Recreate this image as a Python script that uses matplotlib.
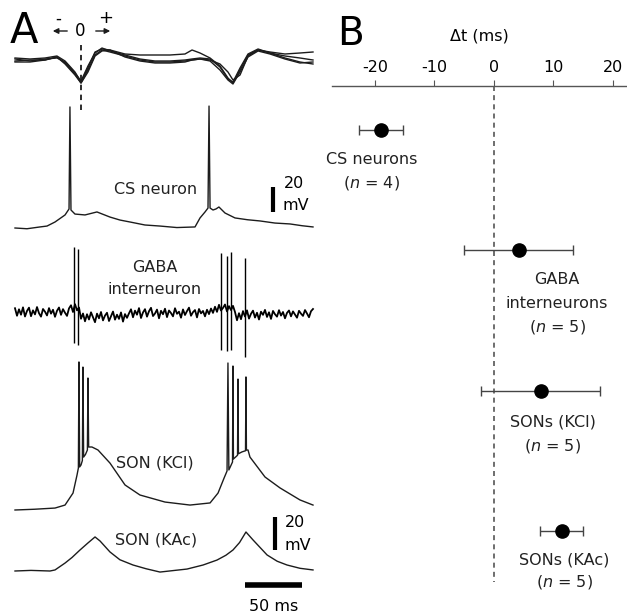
import numpy as np
import matplotlib
matplotlib.use("Agg")
import matplotlib.pyplot as plt

# ---- panel B data: spike timing relative to LFP trough (ms) ----
groups = ["CS neurons", "GABA\ninterneurons", "SONs (KCl)", "SONs (KAc)"]
group_n = [4, 5, 5, 5]
dt_mean = [-19.0, 4.2, 7.9, 11.4]
dt_low = [-22.7, -5.0, -2.2, 7.7]
dt_high = [-15.3, 13.3, 17.8, 15.0]
dt_ticks = [-20, -10, 0, 10, 20]

# ---- panel A data: traces (time in ms, voltage in mV above baseline) ----
lfp_t = [0, 13.2, 26.3, 36.8, 43.9, 52.6, 57.9, 64.0, 70.2, 76.3, 83.3, 96.5,
         109.6, 122.8, 135.9, 149.1, 155.3, 162.3, 171.1, 179.8, 186.8, 191.2,
         197.4, 204.4, 213.2, 223.7, 236.8, 250.0, 261.4]
lfp_1 = [2, 1, 2, 4, -1, -12, -22, -8, 8, 11, 10, 6, 5, 5, 5, 6, 10, 7, 2, -6,
         -18, -23, -10, 5, 10, 8, 6, 7, 8]
lfp_2 = [-1, 0, 0, 3, -3, -14, -23, -12, 4, 9, 10, 3, -1, -3, -3, -2, 0, 1, 0,
         -4, -12, -20, -15, 4, 10, 7, 2, -2, -4]
lfp_3 = [1, -1, 1, 2, -2, -13, -21, -6, 7, 12, 9, 5, 1, -1, -1, 0, 1, 2, 1, -7,
         -19, -22, -8, 6, 11, 7, 4, 2, 0]
lfp_4 = [-2, -2, 0, 3, -4, -15, -23, -10, 5, 10, 8, 4, 0, -2, -2, -1, 0, 1, -1,
         -10, -20, -24, -12, 3, 9, 6, 1, -3, -2]
lfp_zero_t = 57.9

cs_t = [0, 10.5, 21.9, 28.1, 35.1, 43.9, 47.4, 48.2, 49.1, 52.6, 61.4, 71.9,
        83.3, 92.1, 100.9, 114.0, 127.2, 142.0, 157.9, 162.3, 166.7, 169.3,
        170.2, 171.1, 173.7, 176.3, 178.9, 184.2, 193.0, 204.0, 214.9, 228.0,
        241.2, 252.0, 261.4]
cs_v = [0, -0.5, 0.7, 1.3, 4.0, 8.7, 12.7, 80.7, 12.0, 9.3, 8.7, 10.7,
        7.3, 5.3, 4.0, 2.0, 1.3, 0.3, 0.7, 6.7, 10.7, 13.3,
        81.3, 13.3, 12.0, 12.7, 14.0, 10.0, 6.7, 5.5, 4.7, 3.3,
        2.7, 1.5, 0.7]

gaba_v = [4.5, -0.5, 3.8, 0.2, 5.1, -1.0, 2.7, 4.9, -0.8, 3.1, 0.4, 5.3, 1.2,
          -1.1, 4.0, 2.2, -0.3, 4.6, 0.9, 3.5, -1.2, 2.8, 5.0, 0.1, 3.9, 1.5,
          -0.6, 4.4,
          6.5, 2.0, 7.2, 3.1, 5.0,
          -2.5, 1.0, -4.2, 0.5, -3.0, 1.8, -1.5, -4.8, 0.9, -2.2, 2.0, -3.6,
          -0.4, 1.5, -4.0, -0.8, 2.3, -3.1, 0.2, -2.6, 1.7, -4.4, 0.6, -1.9, 1.1,
          3.8, -1.5, 2.9, 0.2, 4.6, -2.0, 1.7, 3.9, -1.1, 2.5, 4.8, -0.7, 1.0,
          3.6, -2.2, 2.8, 0.5, 4.2, -1.4, 3.0, 1.3, -0.9, 4.5, 0.8, 2.2, -1.8,
          3.7, 0.0, 2.6, 4.9, -0.5, 1.9, 3.3, -1.6, 4.0, 1.1, 2.7, -0.9, 3.5,
          0.6, 4.3, 1.4,
          5.5, 2.1, 6.8, 3.0, 4.7, 7.0, 2.4, 5.9, 3.3, 6.1, 2.0,
          -3.5, 1.2, -2.8, 2.6, -1.0, 3.1, -2.4, 0.8, 2.9, -1.7, 1.5, -3.0, 2.2,
          0.1, 3.4, -1.3, 1.8, -2.6, 2.7, 0.5, -1.1, 3.2, -0.4, 2.0, -2.2, 1.4,
          3.0, -0.9, 2.4, 0.3, -1.8, 2.8, 0.9, -0.6, 3.3, 1.0, -1.5, 2.5, 4.0]
gaba_spike_t = [51.7, 55.3, 180.7, 185.9, 189.4, 201.7]
gaba_spike_top = [45.3, 44.0, 41.3, 39.3, 42.0, 38.0]
gaba_spike_bottom = [-18.7, -20.0, -23.3, -24.0, -23.3, -28.0]

kcl_t = [0, 17.0, 35.1, 43.9, 50.9, 54.4, 55.6, 56.1, 56.7, 57.9, 59.1, 59.6,
         60.2, 61.8, 63.5, 64.0, 64.6, 65.8, 67.5, 72.8, 83.3, 96.5, 109.6,
         131.6, 153.5, 171.1, 178.1, 183.4, 186.0, 186.8, 187.6, 189.0, 190.8,
         191.2, 191.6, 193.5, 195.2, 195.6, 196.0, 199.0, 202.2, 202.6, 203.0,
         204.4, 206.1, 219.3, 232.5, 250.0, 261.4]
kcl_v = [0, 0.5, 1.3, 3.3, 11.3, 23.3, 28.0, 98.7, 28.7, 30.0, 33.0, 95.3,
         35.3, 37.0, 40.0, 88.0, 42.0, 42.0, 42.0, 40.0, 31.3, 16.7, 10.0,
         5.3, 3.3, 4.7, 11.3, 21.3, 26.0, 98.0, 26.7, 29.0, 32.0,
         96.0, 34.0, 35.3, 36.5, 87.3, 37.5, 38.7, 39.5, 88.7, 40.0,
         40.0, 35.3, 22.0, 14.7, 6.7, 3.3]

kac_t = [0, 14.0, 30.7, 35.1, 43.9, 50.0, 57.0, 64.0, 70.2, 74.6, 83.3, 92.0,
         103.5, 115.0, 127.2, 139.0, 150.9, 165.0, 177.2, 185.0, 191.2, 197.0,
         202.6, 208.8, 221.1, 230.0, 238.6, 250.0, 261.4]
kac_v = [0, 0.4, 0, 0.7, 5.3, 9.0, 14.0, 18.7, 22.7, 20.0, 12.7, 7.5,
         4.0, 1.5, -0.7, 0.3, 1.3, 4.0, 7.3, 10.5, 14.0, 19.0,
         26.0, 20.7, 10.7, 6.5, 4.0, 1.8, 0.7]

# ---- layout helpers (figure pixels -> panel A data units) ----
MS_PER_PX = 50 / 57
MV_PER_PX = 2 / 3
TRACE = "#1c1c1c"


def xa(px):
    return (px - 15) * MS_PER_PX


def ya(px):
    return -px * MV_PER_PX


fig = plt.figure(figsize=(6.27, 6.14), dpi=100)

# ================= panel A =================
ax_a = fig.add_axes([0, 0, 320 / 627, 1])
ax_a.set_xlim(xa(0), xa(320))
ax_a.set_ylim(ya(614), ya(0))
ax_a.axis("off")

for tr in (lfp_1, lfp_2, lfp_3, lfp_4):
    ax_a.plot(lfp_t, ya(60) + np.array(tr) * MV_PER_PX, color=TRACE, lw=1)
ax_a.plot([lfp_zero_t, lfp_zero_t], [ya(45), ya(110)], color=TRACE, lw=1.3,
          ls=(0, (3, 2.5)))

ax_a.plot(cs_t, ya(228) + np.array(cs_v), color=TRACE, lw=1)

gaba_t = np.linspace(0, 261.4, len(gaba_v))
ax_a.plot(gaba_t, ya(315) + np.array(gaba_v), color="black", lw=1.3)
ax_a.vlines(gaba_spike_t, ya(315) + np.array(gaba_spike_bottom),
            ya(315) + np.array(gaba_spike_top), color="black", lw=1)

ax_a.plot(kcl_t, ya(510) + np.array(kcl_v), color=TRACE, lw=1)
ax_a.plot(kac_t, ya(571) + np.array(kac_v), color=TRACE, lw=1)

# labels
ax_a.text(xa(10), ya(31), "A", fontsize=30, ha="left", va="center")
ax_a.text(xa(80), ya(31), "0", fontsize=12, ha="center", va="center")
ax_a.text(xa(58), ya(19), "-", fontsize=12, ha="center", va="center")
ax_a.text(xa(106), ya(18), "+", fontsize=13, ha="center", va="center")
ax_a.annotate("", xy=(xa(50), ya(31)), xytext=(xa(70), ya(31)),
              arrowprops=dict(arrowstyle="-|>", color=TRACE, lw=1,
                              mutation_scale=8))
ax_a.annotate("", xy=(xa(113), ya(31)), xytext=(xa(93), ya(31)),
              arrowprops=dict(arrowstyle="-|>", color=TRACE, lw=1,
                              mutation_scale=8))

lab = dict(fontsize=11.5, ha="center", va="center", color="#222")
ax_a.text(xa(156), ya(189), "CS neuron", **lab)
ax_a.text(xa(155), ya(268), "GABA", **lab)
ax_a.text(xa(155), ya(290), "interneuron", **lab)
ax_a.text(xa(155), ya(463), "SON (KCl)", **lab)
ax_a.text(xa(156), ya(540), "SON (KAc)", **lab)

# scale bars
ax_a.plot([xa(273), xa(273)], [ya(187), ya(212)], color="black", lw=3,
          solid_capstyle="butt")
ax_a.text(xa(284), ya(184), "20", fontsize=11.5, ha="left", va="center")
ax_a.text(xa(283), ya(206), "mV", fontsize=11.5, ha="left", va="center")
ax_a.plot([xa(275), xa(275)], [ya(517), ya(550)], color="black", lw=3,
          solid_capstyle="butt")
ax_a.text(xa(285), ya(522), "20", fontsize=11.5, ha="left", va="center")
ax_a.text(xa(284), ya(545), "mV", fontsize=11.5, ha="left", va="center")
ax_a.plot([xa(245), xa(245) + 50], [ya(585), ya(585)], color="black", lw=4,
          solid_capstyle="butt")
ax_a.text(xa(274), ya(606), "50 ms", fontsize=11.5, ha="center", va="center")

# ================= panel B =================
ax_b = fig.add_axes([332 / 627, 1 - 600 / 614, 295 / 627, (600 - 86) / 614])
ax_b.set_xlim(-27.2, 22.35)
ax_b.set_ylim(600, 86)
for side in ("left", "right", "bottom"):
    ax_b.spines[side].set_visible(False)
ax_b.spines["top"].set_color("#555")
ax_b.spines["top"].set_linewidth(1)
ax_b.xaxis.tick_top()
ax_b.xaxis.set_label_position("top")
ax_b.set_xticks(dt_ticks)
ax_b.set_xticklabels([str(t) for t in dt_ticks])
ax_b.tick_params(axis="x", direction="out", length=4, color="#555",
                 labelsize=11.5, pad=4)
ax_b.set_yticks([])
ax_b.set_xlabel("Δt (ms)", fontsize=11.5, labelpad=14)
ax_b.patch.set_alpha(0)

ax_b.plot([0, 0], [86, 582], color="#555", lw=1.2, ls=(0, (3, 2.5)))

rows = [130, 250, 391, 531]
mean = np.array(dt_mean)
xerr = [mean - np.array(dt_low), np.array(dt_high) - mean]
ax_b.errorbar(mean, rows, xerr=xerr, fmt="o", color="black", ms=9.5,
              ecolor="#444", elinewidth=1, capsize=3.8, capthick=1)

lab_b = dict(fontsize=11.5, ha="center", va="center", color="#222")
ax_b.text(-20.5, 160, groups[0], **lab_b)
ax_b.text(-20.5, 183, rf"($n$ = {group_n[0]})", **lab_b)
ax_b.text(10.6, 279, groups[1].split("\n")[0], **lab_b)
ax_b.text(10.6, 303, groups[1].split("\n")[1], **lab_b)
ax_b.text(10.6, 327, rf"($n$ = {group_n[1]})", **lab_b)
ax_b.text(9.9, 422, groups[2], **lab_b)
ax_b.text(9.9, 446, rf"($n$ = {group_n[2]})", **lab_b)
ax_b.text(11.8, 560, groups[3], **lab_b)
ax_b.text(11.8, 582, rf"($n$ = {group_n[3]})", **lab_b)

fig.text(337 / 627, 1 - 34 / 614, "B", fontsize=28, ha="left", va="center")

fig.savefig("out.png", dpi=100)
